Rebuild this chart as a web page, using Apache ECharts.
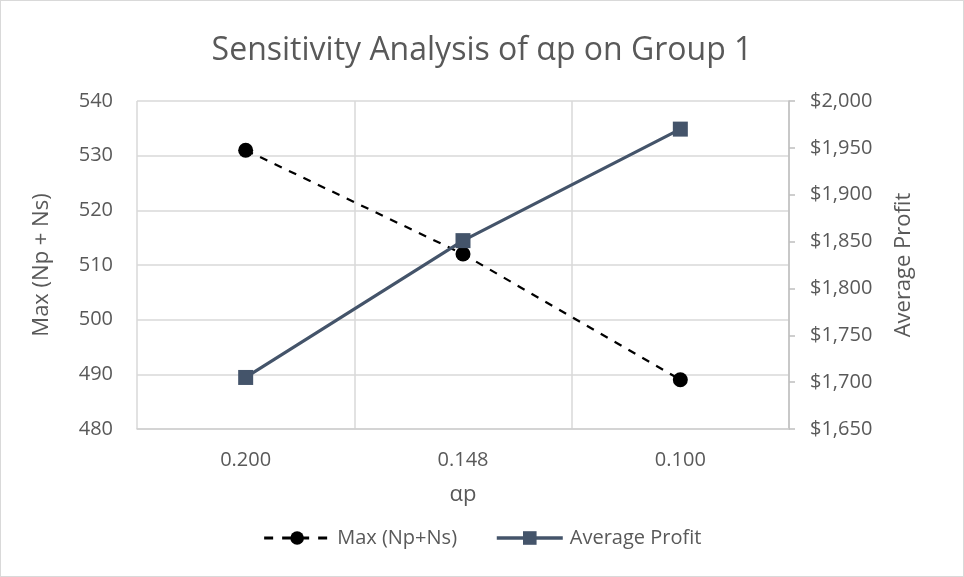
<!DOCTYPE html>
<html>
<head>
<meta charset="utf-8">
<script src="https://cdn.jsdelivr.net/npm/echarts@6/dist/echarts.min.js"></script>
<style>
  html, body { margin: 0; padding: 0; background: #fff; }
  #chart { position: absolute; left: 0; top: 0; width: 962px; height: 575px; border: 1px solid #d9d9d9; }
</style>
</head>
<body>
<div id="chart"></div>
<script>
// Sensitivity of alpha_p on group 1
const categories = ['0.200', '0.148', '0.100'];
const maxNpNs = [531, 512, 489];
const avgProfit = [1705, 1851, 1970];
const leftTicks = [480, 540, 10];
const rightTicks = [1650, 2000, 50];

const font = '"Open Sans", "Noto Sans", sans-serif';
const grey = '#595959';

const chart = echarts.init(document.getElementById('chart'));
chart.setOption({
  animation: false,
  textStyle: { fontFamily: font },
  title: {
    text: 'Sensitivity Analysis of αp on Group 1',
    left: 'center', top: 29,
    textStyle: { fontFamily: font, fontSize: 32, fontWeight: 'normal', color: grey }
  },
  legend: {
    top: 522, left: 'center',
    itemWidth: 66, itemHeight: 17, itemGap: 38,
    textStyle: { fontFamily: font, fontSize: 20, color: grey, padding: [0, 0, 0, 2] },
    data: [
      { name: 'Max (Np+Ns)', lineStyle: { width: 3, type: [9, 9] } },
      { name: 'Average Profit', lineStyle: { width: 3.5 } }
    ]
  },
  grid: { left: 136, right: 174, top: 100, bottom: 147 },
  xAxis: {
    type: 'category',
    data: categories,
    boundaryGap: true,
    name: 'αp',
    nameLocation: 'middle',
    nameGap: 55,
    nameTextStyle: { fontFamily: font, fontSize: 22, color: grey },
    axisLine: { lineStyle: { color: '#d0d0d0', width: 1.5 } },
    axisTick: { show: false },
    axisLabel: { fontSize: 20, color: grey, margin: 21 },
    splitLine: { show: true, lineStyle: { color: '#d9d9d9', width: 1.5 } }
  },
  yAxis: [
    {
      type: 'value',
      min: leftTicks[0], max: leftTicks[1], interval: leftTicks[2],
      name: 'Max (Np + Ns)',
      nameLocation: 'middle',
      nameGap: 84,
      nameTextStyle: { fontFamily: font, fontSize: 22, color: grey },
      axisLine: { show: false },
      axisTick: { show: false },
      axisLabel: { fontSize: 20, color: grey, margin: 24 },
      splitLine: { show: true, lineStyle: { color: '#d9d9d9', width: 1.5 } }
    },
    {
      type: 'value',
      min: rightTicks[0], max: rightTicks[1], interval: rightTicks[2],
      name: 'Average Profit',
      nameLocation: 'middle',
      nameGap: 104,
      nameRotate: 90,
      nameTextStyle: { fontFamily: font, fontSize: 22, color: grey },
      axisLine: { show: true, lineStyle: { color: '#bfbfbf', width: 1.5 } },
      axisTick: { show: true, length: 6, lineStyle: { color: '#bfbfbf', width: 1.5 } },
      axisLabel: {
        fontSize: 20, color: grey, margin: 21,
        formatter: v => '$' + v.toLocaleString('en-US')
      },
      splitLine: { show: false }
    }
  ],
  series: [
    {
      name: 'Max (Np+Ns)',
      type: 'line',
      yAxisIndex: 0,
      data: maxNpNs,
      symbol: 'circle',
      symbolSize: 15,
      itemStyle: { color: '#000000' },
      lineStyle: { color: '#000000', width: 2.2, type: [8, 8] },
      z: 2
    },
    {
      name: 'Average Profit',
      type: 'line',
      yAxisIndex: 1,
      data: avgProfit,
      symbol: 'rect',
      symbolSize: 15,
      itemStyle: { color: '#44546A' },
      lineStyle: { color: '#44546A', width: 3.2 },
      z: 3
    }
  ]
});
</script>
</body>
</html>
